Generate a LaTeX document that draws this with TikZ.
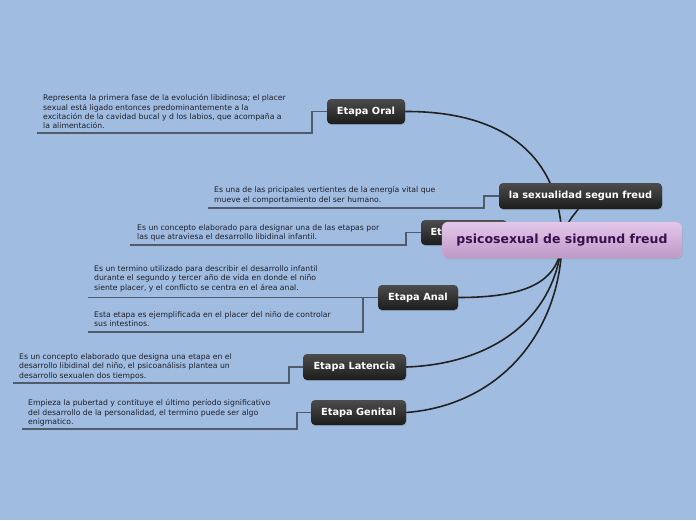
\documentclass[tikz,border=0pt]{standalone}
\usepackage{fontspec}
\setmainfont{DejaVu Sans}
\usetikzlibrary{shadows}
\definecolor{bgblue}{HTML}{A0BDE1}
\definecolor{uline}{HTML}{505C6C}
\definecolor{conncol}{HTML}{222222}
\definecolor{txtcol}{HTML}{1E1E28}
\definecolor{centtxt}{HTML}{3B0F4F}
\definecolor{centtop}{HTML}{E3C8EA}
\definecolor{centbot}{HTML}{BE98C6}
\definecolor{centdraw}{HTML}{D4B2DA}
\definecolor{toptop}{HTML}{4C4C4C}
\definecolor{topbot}{HTML}{1C1C1C}
\pgfdeclarelayer{back}
\pgfdeclarelayer{bg}
\pgfsetlayers{back,bg,main}
\tikzset{
  topic/.style={rounded corners=4pt, top color=toptop, bottom color=topbot, draw=none,
    text=white, font=\fontsize{9.8}{11}\selectfont\bfseries, inner sep=0pt,
    drop shadow={shadow xshift=0.6pt, shadow yshift=-1.2pt, opacity=0.35}},
  central/.style={rounded corners=6pt, top color=centtop, bottom color=centbot, draw=centdraw,
    text=centtxt, font=\fontsize{12.5}{14}\selectfont\bfseries, inner sep=0pt,
    drop shadow={shadow xshift=0.6pt, shadow yshift=-1.4pt, opacity=0.3}},
  note/.style={anchor=north west, inner sep=0pt, align=left, text=txtcol,
    font=\fontsize{7.7}{9.3}\selectfont},
  conn/.style={draw=conncol, line width=1.6pt},
  under/.style={draw=uline, line width=1.1pt},
}
\begin{document}
\begin{tikzpicture}[x=1pt,y=-1pt]
\begin{pgfonlayer}{back}
\fill[bgblue] (0,0) rectangle (696,520);
\end{pgfonlayer}
\useasboundingbox (0,0) rectangle (696,520);

% topic nodes
\node[topic, minimum width=78pt, minimum height=25pt] (oral) at (366,111.5) {Etapa Oral};
\node[topic, minimum width=163pt, minimum height=26pt] (sex) at (580.5,196) {la sexualidad segun freud};
\node[topic, minimum width=86pt, minimum height=25pt] (fal) at (464,232.5) {Etapa Fálica};
\node[topic, minimum width=80pt, minimum height=25pt] (anal) at (418,297.5) {Etapa Anal};
\node[topic, minimum width=103pt, minimum height=26pt] (lat) at (354.5,367) {Etapa Latencia};
\node[topic, minimum width=95pt, minimum height=25pt] (gen) at (358.5,412.5) {Etapa Genital};

% central node (drawn after Fálica, so it covers it)
\node[central, minimum width=240pt, minimum height=36pt] (cen) at (562,240) {psicosexual de sigmund freud};

% notes
\node[note] (noral) at (43,94.5) {Representa la primera fase de la evolución libidinosa; el placer\\sexual está ligado entonces predominantemente a la\\excitación de la cavidad bucal y d los labios, que acompaña a\\la alimentación.};
\node[note] (nsex) at (214,186.5) {Es una de las pricipales vertientes de la energía vital que\\mueve el comportamiento del ser humano.};
\node[note] (nfal) at (137,224.5) {Es un concepto elaborado para designar una de las etapas por\\las que atraviesa el desarrollo libidinal infantil.};
\node[note] (nanal1) at (94,265.5) {Es un termino utilizado para describir el desarrollo infantil\\durante el segundo y tercer año de vida en donde el niño\\siente placer, y el conflicto se centra en el área anal.};
\node[note] (nanal2) at (94,311.5) {Esta etapa es ejemplificada en el placer del niño de controlar\\sus intestinos.};
\node[note] (nlat) at (19,353.5) {Es un concepto elaborado que designa una etapa en el\\desarrollo libidinal del niño, el psicoanálisis plantea un\\desarrollo sexualen dos tiempos.};
\node[note] (ngen) at (28,399.5) {Empieza la pubertad y contituye el último período significativo\\del desarrollo de la personalidad, el termino puede ser algo\\enigmatico.};

% underline free ends
\coordinate (uoral) at (37,133);
\coordinate (usex) at (208,208);
\coordinate (ufal) at (130,245);
\coordinate (uanal1) at (88,297.5);
\coordinate (uanal2) at (88,332);
\coordinate (ulat) at (13,383);
\coordinate (ugen) at (22,429);

\begin{pgfonlayer}{bg}
  % connectors from centre
  \draw[conn] (oral.east) .. controls (497,111) and (560,150) .. (cen.center);
  \draw[conn] (cen.center) .. controls (566,214) and (590,205) .. (sex.center);
  \draw[conn] (cen.center) .. controls (530,236) and (490,233) .. (fal.center);
  \draw[conn] (anal.east) .. controls (527,297.5) and (560,282) .. (cen.center);
  \draw[conn] (lat.east) .. controls (493,364) and (556,318) .. (cen.center);
  \draw[conn] (gen.east) .. controls (502,405) and (561,330) .. (cen.center);
  % underlines
  \draw[under] (uoral) -- (312,133) |- (oral.west);
  \draw[under] (usex) -- (484,208) |- (sex.west);
  \draw[under] (ufal) -- (406,245) |- (fal.west);
  \draw[under] (uanal1) -- (anal.west);
  \draw[under] (uanal2) -- (363,332) -- (363,297.5);
  \draw[under] (ulat) -- (289,383) |- (lat.west);
  \draw[under] (ugen) -- (297,429) |- (gen.west);
\end{pgfonlayer}
\end{tikzpicture}
\end{document}
